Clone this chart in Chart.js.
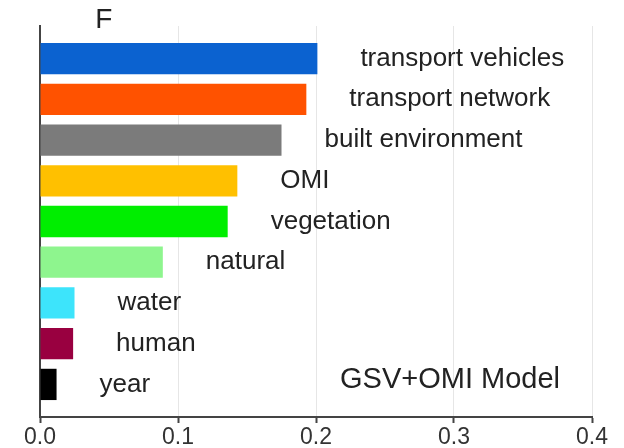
<!DOCTYPE html>
<html>
<head>
<meta charset="utf-8">
<script src="https://cdn.jsdelivr.net/npm/chart.js@4/dist/chart.umd.min.js"></script>
<style>
  html, body { margin: 0; padding: 0; background: #fff; }
  #wrap { width: 624px; height: 448px; }
</style>
</head>
<body>
<div id="wrap"><canvas id="chart"></canvas></div>
<script>
const categories = ['transport vehicles', 'transport network', 'built environment', 'OMI', 'vegetation', 'natural', 'water', 'human', 'year'];
const importance = [0.201, 0.193, 0.175, 0.143, 0.136, 0.089, 0.025, 0.024, 0.012];
const barColors = ['#0b62d0', '#ff5200', '#7b7b7b', '#ffc000', '#00ee00', '#8ef58e', '#3de4fb', '#990040', '#000000'];
const xTicks = [0, 0.1, 0.2, 0.3, 0.4];
const panelLabel = 'F';
const modelName = 'GSV+OMI Model';

const textFont = '"Liberation Sans", Arial, sans-serif';

// bar names next to each bar, panel letter and model name
const annotations = {
    id: 'annotations',
    afterDatasetsDraw(chart) {
        const ctx = chart.ctx;
        const meta = chart.getDatasetMeta(0);
        const xs = chart.scales.x;
        const ys = chart.scales.y;
        ctx.save();
        ctx.fillStyle = '#222';
        ctx.textBaseline = 'middle';
        ctx.font = '26px ' + textFont;
        meta.data.forEach((bar, i) => {
            ctx.fillText(categories[i], bar.x + 43, bar.y);
        });

        ctx.font = '29px ' + textFont;
        ctx.textAlign = 'right';
        ctx.fillText(modelName, xs.getPixelForValue(0.4) - 32, ys.getPixelForValue(categories.length - 1) - 4);

        ctx.textAlign = 'left';
        ctx.font = '28px ' + textFont;
        ctx.fillText(panelLabel, xs.getPixelForValue(0.04), chart.chartArea.top - 6);
        ctx.restore();
    }
};

const ctx = document.getElementById('chart').getContext('2d');
new Chart(ctx, {
    type: 'bar',
    data: {
        datasets: [{
            data: importance.map((v, i) => ({ x: v, y: i })),
            backgroundColor: barColors,
            borderWidth: 0,
            barPercentage: 0.96,
            categoryPercentage: 0.8
        }]
    },
    options: {
        indexAxis: 'y',
        responsive: true,
        maintainAspectRatio: false,
        animation: false,
        layout: { padding: { left: 32, right: 32, top: 26, bottom: -4 } },
        plugins: {
            legend: { display: false },
            tooltip: { enabled: false }
        },
        scales: {
            x: {
                type: 'linear',
                min: 0,
                max: 0.4,
                afterBuildTicks: (axis) => { axis.ticks = xTicks.map(v => ({ value: v })); },
                ticks: {
                    color: '#333',
                    font: { family: textFont, size: 23, lineHeight: 1.0 },
                    padding: 3,
                    callback: (v) => v.toFixed(1)
                },
                grid: { color: '#e6e6e6', lineWidth: 1, tickColor: '#444', tickLength: 6, tickWidth: 2 },
                border: { color: '#444', width: 2 }
            },
            y: {
                type: 'linear',
                reverse: true,
                offset: false,
                min: -0.8,
                max: 8.8,
                afterBuildTicks: (axis) => { axis.ticks = categories.map((c, i) => ({ value: i })); },
                ticks: { display: false },
                grid: { display: false, offset: false },
                border: { color: '#444', width: 2 }
            }
        }
    },
    plugins: [annotations]
});
</script>
</body>
</html>
